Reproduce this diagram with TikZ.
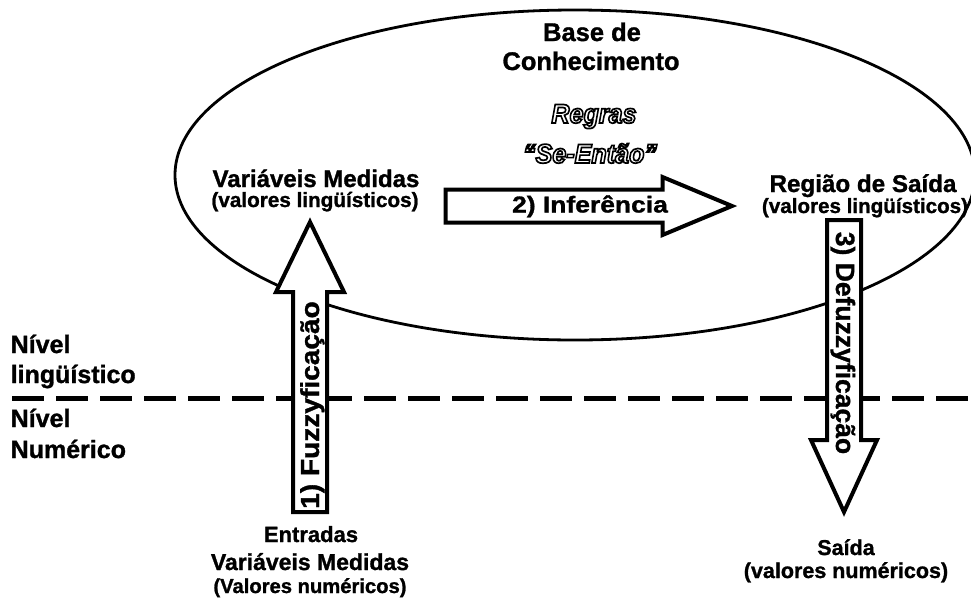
\documentclass[tikz,border=0pt]{standalone}
\usepackage{fontspec}
\setmainfont{Liberation Sans}[BoldFeatures={FakeBold=1.2}]
\usepackage{graphicx}
\newcommand{\myfs}[1]{\fontsize{#1}{#1}\selectfont}
\newcommand{\outl}[1]{\special{pdf:literal direct 1 Tr 1.7 w}#1\special{pdf:literal direct 0 Tr}}
\tikzset{
  lbl/.style={inner sep=0pt, anchor=base},
  blockarrow/.style={draw=black, fill=white, line width=4pt, line join=miter, miter limit=10},
  ellline/.style={draw=black, line width=2.8pt},
  levelline/.style={draw=black, line width=5pt, dash pattern=on 31.5pt off 12.5pt},
}
\begin{document}
\begin{tikzpicture}[x=1pt,y=-1pt]
\useasboundingbox (0,0) rectangle (971,603);
\fill[white] (0,0) rectangle (971,603);
% outlined rule text first
\node[lbl, font=\bfseries\itshape\myfs{27}] (regras1) at (594,123) {\scalebox{0.93}[1]{\outl{Regras}}};
\node[lbl, font=\bfseries\itshape\myfs{27}] (regras2) at (590,163) {\scalebox{0.93}[1]{\outl{“Se-Então”}}};
% level separator
\coordinate (dl) at (12,398);
\coordinate (dr) at (980,398);
\draw[levelline] (dl) -- (dr);
% knowledge base ellipse
\draw[ellline] (575,175) ellipse [x radius=400, y radius=165];
% block arrows
\draw[blockarrow] (293,512) -- (293,292) -- (276,292) -- (310,222) -- (344,292) -- (327,292) -- (327,512) -- cycle;
\draw[blockarrow] (445.5,189.5) -- (662.5,189.5) -- (662.5,177) -- (732,206) -- (662.5,235) -- (662.5,222.5) -- (445.5,222.5) -- cycle;
\draw[blockarrow] (827,220) -- (861,220) -- (861,440) -- (877,440) -- (844,512) -- (811,440) -- (827,440) -- cycle;
% texts
\node[lbl, font=\bfseries\myfs{25.5}] (base1) at (592,41) {Base de};
\node[lbl, font=\bfseries\myfs{25.5}] (base2) at (591,70) {Conhecimento};
\node[lbl, font=\bfseries\myfs{24}] (vm1) at (316,187) {Variáveis Medidas};
\node[lbl, font=\bfseries\myfs{20.7}] (vm2) at (315,207) {(valores lingüísticos)};
\node[lbl, font=\bfseries\myfs{24.2}] (rs1) at (863,192) {Região de Saída};
\node[lbl, font=\bfseries\myfs{20.6}] (rs2) at (865,213) {(valores lingüísticos)};
\node[lbl, anchor=base west, font=\bfseries\myfs{25}] (nl1) at (10.5,353) {Nível};
\node[lbl, anchor=base west, font=\bfseries\myfs{25}] (nl2) at (10.5,383) {lingüístico};
\node[lbl, anchor=base west, font=\bfseries\myfs{25}] (nn1) at (10.5,427) {Nível};
\node[lbl, anchor=base west, font=\bfseries\myfs{25}] (nn2) at (10.5,458) {Numérico};
\node[lbl, font=\bfseries\myfs{22}] (en1) at (311,542) {Entradas};
\node[lbl, font=\bfseries\myfs{23}] (en2) at (310,570) {Variáveis Medidas};
\node[lbl, font=\bfseries\myfs{20.2}] (en3) at (310,593) {(Valores numéricos)};
\node[lbl, font=\bfseries\myfs{21.5}] (sa1) at (846,555) {Saída};
\node[lbl, font=\bfseries\myfs{21.5}] (sa2) at (846,578) {(valores numéricos)};
% arrow labels
\node[lbl, font=\bfseries\myfs{23}] (inf) at (590,212.5) {\scalebox{1.15}[1]{2) Inferência}};
\node[lbl, rotate=90, font=\bfseries\myfs{26}] (fuz) at (319,405) {\scalebox{1.08}[1]{1) Fuzzyficação}};
\node[lbl, rotate=-90, font=\bfseries\myfs{26.5}] (defuz) at (836,343) {3) Defuzzyficação};
\end{tikzpicture}
\end{document}
